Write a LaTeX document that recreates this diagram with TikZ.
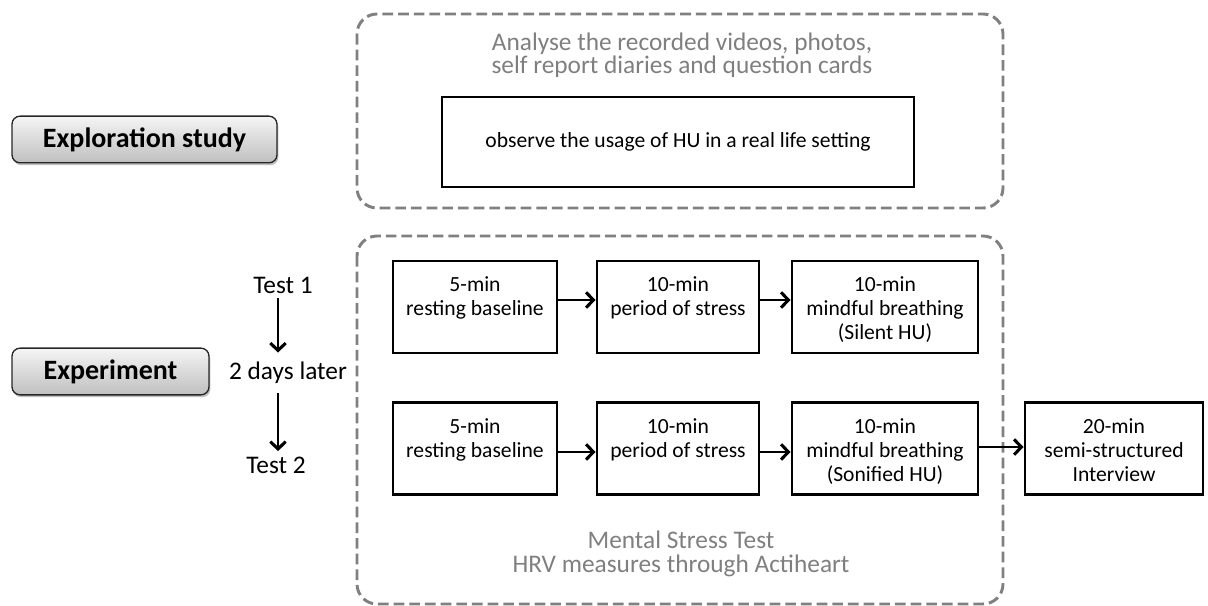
\documentclass[tikz,border=0pt]{standalone}
\usepackage{fontspec}
\setmainfont{Carlito}
\usetikzlibrary{arrows.meta,shadows}
\definecolor{dgray}{HTML}{808080}
\definecolor{tgray}{HTML}{7F7F7F}
\tikzset{
  px/.style={x=0.75pt,y=-0.75pt},
  txt/.style={font=\fontsize{16.2}{18}\selectfont, align=center, inner sep=0pt},
  lbl/.style={txt, font=\fontsize{19}{22}\selectfont},
  gtxt/.style={txt, text=tgray, font=\fontsize{19}{17.5}\selectfont},
  stepbox/.style={draw=black, line width=2.2pt, txt, minimum height=69pt},
  steptext/.style={txt, yshift=-2.8pt},
  dashbox/.style={draw=dgray, line width=2.2pt, dash pattern=on 8pt off 3.75pt, rounded corners=15pt},
  btn/.style={draw=black!85, line width=1pt, rounded corners=6pt, top color=white!96!black, bottom color=black!25,
     font=\fontsize{21}{24}\selectfont\bfseries, inner sep=0pt,
     drop shadow={shadow xshift=1pt, shadow yshift=-1.8pt, opacity=0.25, fill=black}},
  arr/.style={line width=1.3pt, -{Straight Barb[length=5.5pt, width=11.5pt, line width=2.3pt]}},
  varr/.style={line width=0.9pt, -{Straight Barb[length=5.5pt, width=11.5pt, line width=2.3pt]}},
}
\begin{document}
\begin{tikzpicture}[px]
\useasboundingbox (0,0) rectangle (1208,606);
% dashed frames
\draw[dashbox] (357,14) rectangle (1003,208);
\draw[dashbox] (357,236) rectangle (1003,604);
% buttons
\node[btn, minimum width=198.75pt, minimum height=35pt] (expl) at (144.5,139.5) {Exploration study};
\node[btn, minimum width=147.75pt, minimum height=35pt] (expt) at (110.5,371.5) {Experiment};
% top frame
\node[gtxt] (ana) at (682,55) {Analyse the recorded videos, photos,\\self report diaries and question cards};
\node[stepbox, minimum width=354pt, minimum height=67.5pt] (obs) at (678,142) {observe the usage of HU in a real life setting};
% tests
\node[lbl] (t1) at (283,285) {Test 1};
\node[lbl] (days) at (288,373) {2 days later};
\node[lbl] (t2) at (276,465) {Test 2};
\draw[varr, shorten <=3pt, shorten >=7pt] ([xshift=-3.75pt]t1.south) -- ([xshift=-7.5pt]days.north);
\draw[varr, shorten <=7pt, shorten >=4pt] ([xshift=-7.5pt]days.south) -- ([xshift=1.5pt]t2.north);
% row 1
\node[stepbox, minimum width=123pt, label={[steptext]center:\strut 5-min\\\strut resting baseline\\\strut}] (a1) at (475,307) {};
\node[stepbox, minimum width=121.5pt, label={[steptext]center:\strut 10-min\\\strut period of stress\\\strut}] (a2) at (678,307) {};
\node[stepbox, minimum width=139.5pt, label={[steptext]center:\strut 10-min\\\strut mindful breathing\\\strut (Silent HU)}] (a3) at (885,307) {};
\draw[arr] ([yshift=5.25pt]a1.east) -- ([yshift=5.25pt]a2.west);
\draw[arr] ([yshift=5.25pt]a2.east) -- ([yshift=5.25pt]a3.west);
% row 2
\node[stepbox, minimum width=123pt, label={[steptext]center:\strut 5-min\\\strut resting baseline\\\strut}] (b1) at (475,448.5) {};
\node[stepbox, minimum width=121.5pt, label={[steptext]center:\strut 10-min\\\strut period of stress\\\strut}] (b2) at (678,448.5) {};
\node[stepbox, minimum width=139.5pt, label={[steptext]center:\strut 10-min\\\strut mindful breathing\\\strut (Sonified HU)}] (b3) at (885,448.5) {};
\node[stepbox, minimum width=133.5pt, label={[steptext]center:\strut 20-min\\\strut semi-structured\\\strut Interview}] (b4) at (1114,448.5) {};
\draw[arr] ([yshift=-2.6pt]b1.east) -- ([yshift=-2.6pt]b2.west);
\draw[arr] ([yshift=-2.6pt]b2.east) -- ([yshift=-2.6pt]b3.west);
\draw[varr] ([yshift=1.1pt]b3.east) -- ([yshift=1.1pt]b4.west);
% bottom text
\node[gtxt] (mst) at (681,554) {Mental Stress Test\\HRV measures through Actiheart};
\end{tikzpicture}
\end{document}
